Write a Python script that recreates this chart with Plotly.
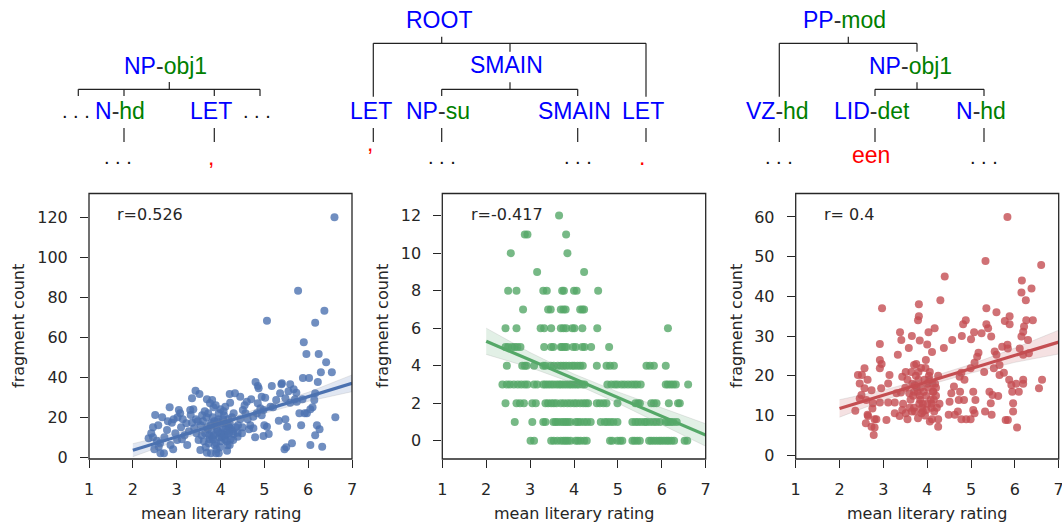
import plotly.graph_objects as go

# ---------------- data ----------------
# Panel 1 (blue): (mean literary rating, fragment count)
pts1_outer = [(6.60, 120), (5.77, 83.3), (6.37, 73.3), (5.06, 68.3), (6.16, 67.3), (5.90, 57.5),
              (5.96, 51.7), (6.24, 51.7), (6.41, 47.5), (6.29, 42.5), (6.54, 42.5), (5.88, 39.7),
              (6.02, 39.7), (6.22, 37.7), (4.80, 37.7), (4.85, 35.7), (4.87, 34.5), (5.17, 35.7),
              (5.39, 36.5), (5.59, 36.5), (5.67, 34), (5.73, 32.3), (3.43, 33.3), (3.52, 31.7),
              (4.21, 31.7), (3.35, 29.5), (3.69, 29), (3.81, 28.7)]
pts1_right = [(6.62, 20), (6.05, 6.2), (6.32, 5.3), (5.46, 4), (5.50, 5), (5.63, 7), (6.16, 11),
              (6.20, 16), (6.26, 14), (5.84, 16), (5.52, 15.3), (5.48, 19), (5.33, 18.3), (5.97, 22),
              (5.80, 22), (6.05, 24), (6.14, 28.7), (6.16, 32), (5.87, 29), (5.74, 27.8), (5.59, 27.3),
              (5.36, 32), (5.48, 29.5), (5.27, 28.7), (5.14, 25.3), (4.98, 23.7), (4.94, 21), (5.06, 15.3),
              (5.10, 11.7), (4.98, 10.7), (4.79, 10), (4.75, 14.5), (4.68, 16), (4.62, 19), (4.57, 22),
              (4.51, 23.7), (4.60, 27.8), (4.45, 30.3), (4.33, 32), (4.75, 20.3), (4.83, 22), (4.91, 24.5),
              (4.94, 30.3), (5.02, 29.8), (4.49, 12), (4.39, 10.3)]
pts1_left = [(2.51, 21.2), (2.46, 15), (2.36, 9.5), (2.46, 10), (2.55, 8.3), (2.49, 4), (2.59, 5.3),
             (2.63, 2), (2.71, 2), (2.67, 20), (2.84, 25), (2.89, 17.3), (2.93, 19), (2.78, 13.7),
             (2.86, 6.2), (3.01, 8.7), (3.05, 23.7), (3.08, 22), (3.14, 19), (3.12, 9), (3.24, 6.2),
             (3.31, 23.7), (3.32, 21.2), (3.35, 17.3), (3.40, 14.5), (3.45, 12), (3.50, 8.7), (3.54, 3.7),
             (3.69, 2.3), (3.78, 2), (3.90, 2), (3.96, 2), (4.15, 3.3), (4.21, 6.2), (4.29, 8.7),
             (4.30, 11.7), (4.39, 12.3), (4.22, 27.3), (4.11, 25.3), (4.30, 22)]
pts1_core = [(3.60, 18), (3.65, 12), (3.70, 15), (3.72, 22), (3.75, 9), (3.78, 17), (3.80, 13), (3.82, 20),
             (3.85, 11), (3.88, 16), (3.90, 7), (3.92, 14), (3.95, 19), (3.98, 10), (4.00, 24), (4.02, 12),
             (4.05, 15), (4.08, 21), (4.10, 9), (4.12, 17), (4.15, 13), (4.18, 19), (4.20, 15), (4.25, 14),
             (3.62, 8), (3.68, 20), (3.74, 11), (3.79, 16), (3.84, 25), (3.87, 6), (3.93, 18), (3.97, 12),
             (4.03, 10), (4.07, 23), (4.13, 11), (4.17, 16), (4.23, 9), (4.28, 13),
             (3.55, 16), (3.58, 21), (3.66, 5), (3.71, 14), (3.76, 27), (3.81, 10), (3.86, 18), (3.91, 4),
             (3.96, 22), (4.01, 8), (4.06, 19), (4.11, 14), (4.16, 6), (4.21, 17), (4.26, 20), (4.35, 15),
             (3.64, 23), (3.73, 7), (3.83, 9), (3.89, 26), (3.94, 13), (3.99, 5), (4.04, 17), (4.09, 11),
             (4.14, 8), (4.19, 12), (3.48, 18), (3.57, 11), (4.40, 16), (4.45, 19)]
pts1_mid = [(2.42, 12), (2.58, 16), (2.72, 10), (2.80, 18), (2.97, 12), (3.02, 20), (3.10, 15), (3.18, 11),
            (3.22, 17), (3.28, 13), (3.38, 24), (3.44, 19), (2.62, 7), (2.92, 4), (4.50, 15), (4.55, 26),
            (4.65, 14), (4.70, 29), (4.85, 27), (5.00, 16), (5.20, 25), (5.40, 37), (5.55, 33), (5.70, 29),
            (5.92, 22), (6.10, 25)]

# Panel 2 (green): x positions of books per fragment count value
counts2 = [12, 11, 10, 9, 8, 7, 6, 5, 4, 3, 2, 1, 0]
x2_c12 = [3.66]
x2_c11 = [2.88, 2.94, 3.82]
x2_c10 = [2.56, 3.85]
x2_c9 = [3.16, 4.23]
x2_c8 = [2.50, 2.69, 3.30, 3.38, 3.73, 3.77, 4.00, 4.06, 4.55]
x2_c7 = [2.84, 3.41, 3.47, 3.70, 3.76, 3.81, 4.14, 4.19, 4.23]
x2_c6 = [2.44, 2.69, 3.24, 3.32, 3.48, 3.70, 3.76, 3.82, 3.96, 4.01, 4.19, 4.53, 6.14]
x2_c5 = [2.44, 2.50, 2.59, 2.65, 2.71, 2.78, 3.32, 3.48, 3.53, 3.70, 3.73, 3.79, 3.83, 3.98, 4.04,
         4.19, 4.24, 4.39, 4.80]
x2_c4 = [2.47, 2.82, 2.88, 2.92, 3.09, 3.30, 3.35, 3.47, 3.54, 3.63, 3.70, 3.76, 3.82, 3.89, 3.96,
         4.01, 4.08, 4.14, 4.20, 4.52, 4.74, 4.82, 4.91, 5.65, 5.73, 5.82, 6.09]
x2_c3 = [2.37, 2.47, 2.54, 2.63, 2.72, 2.80, 2.88, 2.94, 3.09, 3.16, 3.30, 3.35, 3.41, 3.47, 3.53,
         3.60, 3.66, 3.71, 3.77, 3.83, 3.89, 3.94, 4.00, 4.06, 4.11, 4.19, 4.24, 4.76, 4.85, 4.93,
         4.99, 5.08, 5.15, 5.23, 5.31, 5.38, 5.44, 5.52, 6.09, 6.14, 6.20, 6.26, 6.32, 6.60]
x2_c2 = [2.44, 2.69, 2.77, 2.86, 3.05, 3.13, 3.35, 3.41, 3.48, 3.54, 3.60, 3.70, 3.77, 3.85, 3.92,
         4.00, 4.06, 4.14, 4.21, 4.27, 4.32, 4.52, 4.59, 4.67, 4.74, 4.99, 5.40, 5.46, 5.50, 5.76,
         5.82, 5.88, 6.16, 6.37, 6.41]
x2_c1 = [2.65, 3.05, 3.30, 3.35, 3.53, 3.58, 3.63, 3.70, 3.76, 3.81, 3.86, 3.92, 4.04, 4.09, 4.15,
         4.23, 4.30, 4.38, 4.61, 4.70, 4.76, 4.83, 4.90, 4.99, 5.33, 5.40, 5.46, 5.53, 5.61, 5.65,
         5.73, 5.81, 5.88, 5.96, 6.09, 6.14, 6.20, 6.26, 6.34]
x2_c0 = [3.01, 3.09, 3.48, 3.54, 3.62, 3.70, 3.76, 3.81, 3.86, 3.92, 4.04, 4.09, 4.15, 4.23, 4.29,
         4.82, 4.87, 4.99, 5.05, 5.10, 5.33, 5.38, 5.44, 5.50, 5.71, 5.76, 5.82, 5.88, 5.94, 5.99,
         6.05, 6.11, 6.16, 6.22, 6.28, 6.52, 6.58]

# Panel 3 (red)
pts3_outer = [(5.83, 60), (5.33, 48.9), (6.60, 47.9), (4.40, 45), (6.16, 44), (6.15, 41), (6.38, 42),
              (4.30, 39), (6.25, 39), (2.97, 37), (3.81, 38), (5.35, 37), (5.58, 36), (5.88, 35),
              (5.77, 33.8), (5.88, 33), (3.81, 35), (3.79, 34), (4.88, 34), (4.82, 33), (5.35, 33),
              (5.39, 32), (4.17, 32), (4.03, 31), (3.38, 31), (3.41, 29), (3.65, 30), (5.07, 31),
              (5.24, 30.7), (5.46, 29.9), (6.15, 29.9), (6.21, 32.4), (6.19, 31.1), (6.26, 34),
              (6.41, 34), (2.92, 28), (3.83, 28.9), (4.38, 27), (4.57, 29), (4.79, 30), (5.00, 29.2),
              (4.00, 27.9), (4.11, 26), (3.33, 25.3), (3.58, 27), (3.70, 22.7), (2.92, 24), (2.96, 23),
              (2.92, 21.9)]
pts3_left = [(2.57, 21.9), (2.42, 20.2), (2.51, 20.2), (2.46, 18.1), (2.64, 19), (2.57, 16.9),
             (2.73, 16.4), (2.50, 15.2), (2.46, 14.3), (2.61, 13.9), (2.36, 11.2), (2.64, 10.2),
             (2.65, 9.9), (2.60, 8.1), (2.73, 7.2), (2.80, 9.1), (2.84, 9.1), (2.80, 7), (2.78, 5.1),
             (2.75, 11.8), (2.76, 13.1), (2.95, 16.9), (3.11, 18.1), (3.14, 20.2), (3.07, 8.9),
             (3.11, 13.3), (2.92, 13.3), (3.26, 13.3), (3.30, 15.6), (3.40, 15.8), (3.43, 19.8),
             (3.51, 21), (3.55, 19), (3.71, 17.7), (3.59, 15.6), (3.51, 10.6), (3.55, 9.1), (3.37, 9.9),
             (3.43, 11.4), (3.26, 10.6)]
pts3_right = [(4.06, 8.5), (4.25, 7.2), (4.11, 9.1), (4.25, 9.1), (3.79, 9.3), (3.87, 10.6), (3.98, 11.4),
              (4.51, 13.5), (4.49, 10.2), (4.63, 10.2), (4.55, 15.6), (4.61, 17.3), (4.74, 19.8),
              (4.78, 20.8), (4.85, 19), (4.75, 16), (4.72, 13.9), (4.84, 13.9), (4.70, 11), (4.78, 9.1),
              (4.89, 9.1), (4.99, 9.1), (5.08, 10.6), (5.05, 11.4), (5.10, 13.9), (5.05, 16), (4.99, 21.9),
              (5.08, 23.3), (5.17, 25.8), (5.14, 24.8), (5.30, 21), (5.32, 11), (5.45, 13.1), (5.42, 16),
              (5.49, 15.2), (5.62, 14.9), (5.47, 10.2), (5.52, 21.9), (5.54, 26.1), (5.58, 25.3),
              (5.65, 22.7), (5.65, 20.2), (5.75, 20.8), (5.71, 27.3), (5.83, 27.8), (5.84, 26.9),
              (5.79, 8.9), (5.84, 8.9), (5.87, 19), (5.92, 17.7), (5.94, 16), (5.96, 13.1), (5.96, 11),
              (6.05, 7), (6.03, 18), (6.09, 16), (6.11, 26.9), (6.19, 25.3), (6.19, 19), (6.19, 18),
              (6.30, 29), (6.32, 25.7), (6.55, 16.9), (6.62, 19)]
pts3_core = [(3.62, 14), (3.66, 18), (3.70, 12), (3.74, 20), (3.78, 16), (3.82, 13), (3.86, 22), (3.90, 11),
             (3.94, 19), (3.98, 15), (4.02, 17), (4.06, 21), (4.10, 13), (4.14, 16), (4.18, 18), (4.22, 12),
             (3.64, 21), (3.68, 15), (3.72, 11), (3.76, 17), (3.80, 19), (3.84, 14), (3.88, 12), (3.92, 16),
             (3.96, 22), (4.00, 13), (4.04, 20), (4.08, 14), (4.12, 18), (4.16, 11), (4.20, 15),
             (3.60, 12), (3.75, 23), (3.85, 17), (3.95, 10), (4.05, 19), (4.15, 14), (4.25, 20), (3.70, 16),
             (3.80, 21), (3.90, 13), (4.00, 18), (4.10, 12), (4.20, 17), (3.65, 11), (3.83, 15), (3.97, 24),
             (4.13, 16), (4.28, 13), (3.50, 17), (3.45, 13)]

# Regression fits with 95% confidence band
fit_x = [2, 3, 4, 5, 6, 7]
fit1 = [3.5, 10.2, 16.9, 23.6, 30.3, 37.0]
ci1_lo = [0.3, 8.2, 15.6, 22.0, 28.0, 32.8]
ci1_hi = [6.8, 12.2, 18.2, 25.2, 32.5, 41.2]
fit2 = [5.3, 4.3, 3.3, 2.3, 1.3, 0.3]
ci2_lo = [4.6, 3.9, 3.05, 2.0, 0.85, -0.3]
ci2_hi = [6.0, 4.7, 3.55, 2.6, 1.75, 0.9]
fit3 = [11.8, 15.1, 18.5, 21.8, 25.2, 28.5]
ci3_lo = [9.6, 13.8, 17.6, 20.7, 23.4, 25.5]
ci3_hi = [14.0, 16.4, 19.4, 22.9, 27.0, 31.5]

r_labels = ["r=0.526", "r=-0.417", "r= 0.4"]
x_ticks = [1, 2, 3, 4, 5, 6, 7]
y_ticks1 = [0, 20, 40, 60, 80, 100, 120]
y_ticks2 = [0, 2, 4, 6, 8, 10, 12]
y_ticks3 = [0, 10, 20, 30, 40, 50, 60]

# ---------------- build ----------------
W, H = 1062, 524


def px(x):
    return x / W


def py(y):
    return 1 - y / H


def split(pts):
    return [p[0] for p in pts], [p[1] for p in pts]


x1, y1 = split(pts1_outer + pts1_right + pts1_left + pts1_core + pts1_mid)
x3, y3 = split(pts3_outer + pts3_left + pts3_right + pts3_core)
rows2 = [x2_c12, x2_c11, x2_c10, x2_c9, x2_c8, x2_c7, x2_c6, x2_c5, x2_c4, x2_c3, x2_c2, x2_c1, x2_c0]
x2, y2 = [], []
for c, xs in zip(counts2, rows2):
    x2 += xs
    y2 += [c] * len(xs)

BLUE, GREEN, RED = "#4C72B0", "#55A868", "#C44E52"
BAND = ["rgba(76,114,176,0.17)", "rgba(85,168,104,0.17)", "rgba(196,78,82,0.17)"]
INK = "#262626"

panels = [
    (x1, y1, fit1, ci1_lo, ci1_hi, BLUE, BAND[0]),
    (x2, y2, fit2, ci2_lo, ci2_hi, GREEN, BAND[1]),
    (x3, y3, fit3, ci3_lo, ci3_hi, RED, BAND[2]),
]

fig = go.Figure()
for i, (xs, ys, fit, lo, hi, col, band) in enumerate(panels):
    ax = "" if i == 0 else str(i + 1)
    fig.add_trace(go.Scatter(x=xs, y=ys, mode="markers", xaxis="x" + ax, yaxis="y" + ax,
                             marker=dict(size=8, color=col, opacity=0.8, line=dict(width=0)),
                             showlegend=False, hoverinfo="skip"))
    fig.add_trace(go.Scatter(x=fit_x + fit_x[::-1], y=hi + lo[::-1], mode="lines", fill="toself",
                             fillcolor=band, line=dict(width=0.6, color="rgba(150,150,150,0.35)"),
                             xaxis="x" + ax, yaxis="y" + ax, showlegend=False, hoverinfo="skip"))
    fig.add_trace(go.Scatter(x=fit_x, y=fit, mode="lines", line=dict(color=col, width=3.2),
                             xaxis="x" + ax, yaxis="y" + ax, showlegend=False, hoverinfo="skip"))

x_dom = [(89, 352), (442.3, 705.7), (795.7, 1058.7)]
y_dom = [py(459), py(193.5)]
y_ranges = [[-0.85, 131.9], [-0.98, 13.18], [-0.93, 65.9]]
y_tickvals = [y_ticks1, y_ticks2, y_ticks3]

tickfont = dict(family="DejaVu Sans", size=16, color=INK)
layout = dict(width=W, height=H, margin=dict(l=0, r=0, t=0, b=0, autoexpand=False),
              paper_bgcolor="white", plot_bgcolor="white", showlegend=False)
for i in range(3):
    ax = "" if i == 0 else str(i + 1)
    layout["xaxis" + ax] = dict(domain=[px(x_dom[i][0]), px(x_dom[i][1])], range=[1, 7],
                                tickvals=x_ticks, anchor="y" + ax, showline=False,
                                ticks="outside", ticklen=8, automargin=False,
                                ticklabeloverflow="allow",
                                tickwidth=1.3, tickcolor=INK, showgrid=False, zeroline=False,
                                tickfont=tickfont, ticklabelstandoff=8, fixedrange=True)
    layout["yaxis" + ax] = dict(domain=y_dom, range=y_ranges[i], tickvals=y_tickvals[i],
                                anchor="x" + ax, showline=False, automargin=False,
                                ticklabeloverflow="allow",
                                ticks="outside", ticklen=8, tickwidth=1.3,
                                tickcolor=INK, showgrid=False, zeroline=False, tickfont=tickfont,
                                ticklabelstandoff=9, fixedrange=True)
fig.update_layout(**layout)

ann = []
# r labels
for i, t in enumerate(r_labels):
    ax = "" if i == 0 else str(i + 1)
    ann.append(dict(text=t, xref="x" + ax + " domain", yref="y" + ax + " domain", x=0.1, y=0.921,
                    xanchor="left", yanchor="middle", showarrow=False, font=tickfont))
# axis titles
for i, xc in enumerate([18, 382, 736]):
    ann.append(dict(text="fragment count", xref="paper", yref="paper", x=px(xc), y=py(326),
                    textangle=-90, showarrow=False, font=tickfont, xanchor="center", yanchor="middle"))
for (a, b) in x_dom:
    ann.append(dict(text="mean literary rating", xref="paper", yref="paper", x=px((a + b) / 2),
                    y=py(513), showarrow=False, font=tickfont, xanchor="center", yanchor="middle"))

# ---------------- syntax tree fragments ----------------
TBLUE, TGREEN, TRED, TDASH = "#0000ff", "#008000", "#ff0000", "#333333"
TFONT = "Liberation Sans, Arial, sans-serif"
tree_nodes = [  # (category, function tag, centre x px, centre y px)
    ("NP", "obj1", 165, 65.5), ("N", "hd", 120, 110.5), ("LET", None, 211, 110.5),
    ("ROOT", None, 439, 19.5), ("SMAIN", None, 506, 64.5), ("LET", None, 370.5, 110.5),
    ("NP", "su", 438.3, 110.5), ("SMAIN", None, 574.5, 110.5), ("LET", None, 642.8, 110.5),
    ("PP", "mod", 844.5, 20.5), ("NP", "obj1", 910.3, 66), ("VZ", "hd", 777, 110.5),
    ("LID", "det", 872, 110.5), ("N", "hd", 980.7, 110.5),
]
tree_ellipses = [(76, 111.5), (257, 111.5), (118, 157), (441.7, 157), (577.7, 157),
                 (779, 157), (984, 157)]
tree_words = [(",", 211, 157), (",", 370, 142.5), (".", 642, 156.5), ("een", 871.3, 155.3)]
tree_edges = [
    (169.3, 82, 169.3, 89.3), (78.3, 89.3, 260, 89.3), (78.3, 89.3, 78.3, 96), (124, 89.3, 124, 96),
    (214.3, 89.3, 214.3, 96), (260, 89.3, 260, 96), (124, 128, 124, 142), (214.3, 128, 214.3, 142),
    (441.7, 36.7, 441.7, 43.3), (373.3, 43.3, 646, 43.3), (373.3, 43.3, 373.3, 96.7),
    (510, 43.3, 510, 51.7), (646, 43.3, 646, 96.7), (510, 82.3, 510, 89.3),
    (441.7, 89.3, 577.7, 89.3), (441.7, 89.3, 441.7, 96), (577.7, 89.3, 577.7, 96),
    (373.3, 128, 373.3, 142), (441.7, 128, 441.7, 142), (577.7, 128, 577.7, 142), (646, 128, 646, 142),
    (848.3, 36.7, 848.3, 43.3), (779.3, 43.3, 917, 43.3), (779.3, 43.3, 779.3, 96.7),
    (917, 43.3, 917, 51.7), (917, 82.3, 917, 89.3), (875, 89.3, 984, 89.3), (875, 89.3, 875, 96),
    (984, 89.3, 984, 96), (779.3, 128, 779.3, 142), (875, 128, 875, 142), (984, 128, 984, 142),
]

for cat, fn, x, y in tree_nodes:
    txt = f"<span style='color:{TBLUE}'>{cat}</span>"
    if fn:
        txt += f"<span style='color:{TDASH}'>-</span><span style='color:{TGREEN}'>{fn}</span>"
    ann.append(dict(text=txt, xref="paper", yref="paper", x=px(x), y=py(y), showarrow=False,
                    xanchor="center", yanchor="middle", font=dict(family=TFONT, size=23, color=TBLUE)))
for x, y in tree_ellipses:
    ann.append(dict(text=". . .", xref="paper", yref="paper", x=px(x), y=py(y), showarrow=False,
                    xanchor="center", yanchor="middle", font=dict(family=TFONT, size=20, color="#111111")))
for w, x, y in tree_words:
    ann.append(dict(text=w, xref="paper", yref="paper", x=px(x), y=py(y), showarrow=False,
                    xanchor="center", yanchor="middle", font=dict(family=TFONT, size=23, color=TRED)))

shapes = []
for xa, ya, xb, yb in tree_edges:
    shapes.append(dict(type="line", xref="paper", yref="paper", x0=px(xa), y0=py(ya), x1=px(xb),
                       y1=py(yb), line=dict(color="#222222", width=1.2)))
# axes frames
for i in range(3):
    ax = "" if i == 0 else str(i + 1)
    shapes.append(dict(type="rect", xref="x" + ax + " domain", yref="y" + ax + " domain",
                       x0=0, x1=1, y0=0, y1=1, layer="above", line=dict(color=INK, width=1.3)))

fig.update_layout(annotations=ann, shapes=shapes)
fig.write_html("out.html", config={"displayModeBar": False},
               post_script="document.body.style.margin='0px';document.body.style.padding='0px';")
